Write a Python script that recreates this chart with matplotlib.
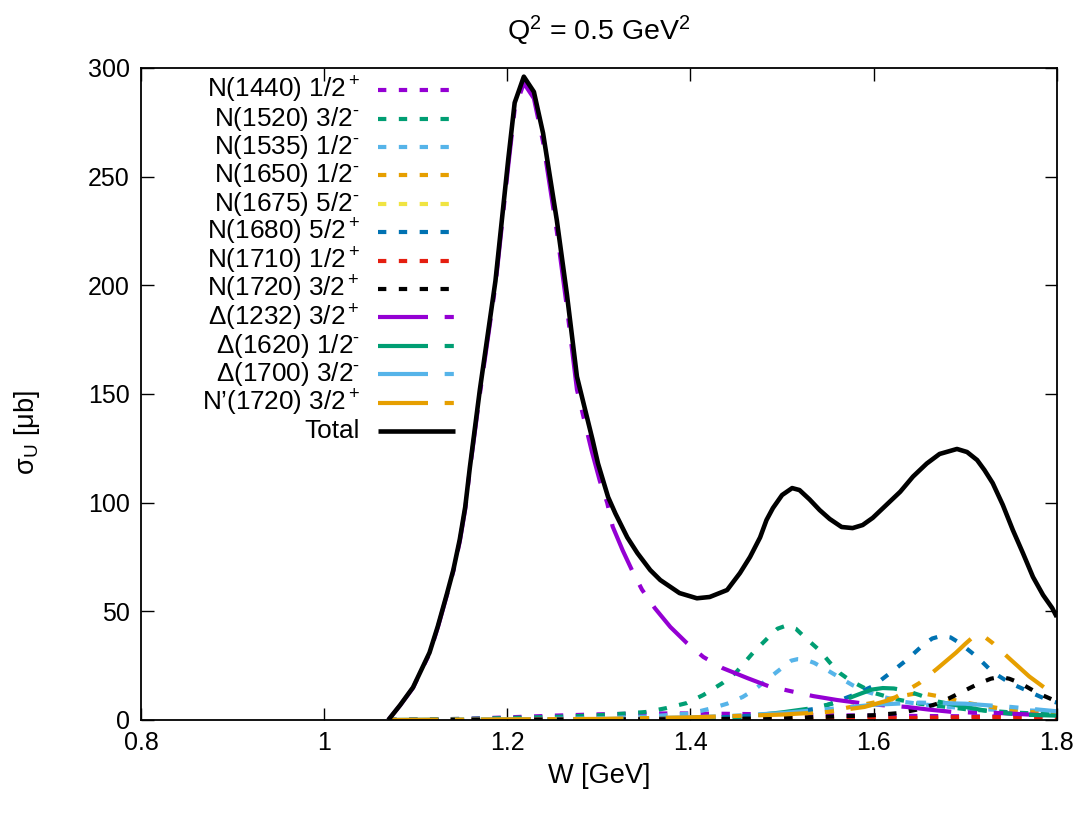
import matplotlib
matplotlib.use("Agg")
import matplotlib.pyplot as plt
from matplotlib.lines import Line2D

plt.rcParams['font.family'] = ['Liberation Sans', 'DejaVu Sans']
plt.rcParams['mathtext.fontset'] = 'custom'
plt.rcParams['mathtext.rm'] = 'Liberation Sans'
plt.rcParams['mathtext.it'] = 'Liberation Sans:italic'
plt.rcParams['mathtext.bf'] = 'Liberation Sans:bold'

# ---------------- data ----------------
W_tot = [1.07, 1.083, 1.097, 1.106, 1.115, 1.124, 1.134, 1.141, 1.148, 1.154, 1.159,
         1.170, 1.187, 1.201, 1.208, 1.218, 1.229, 1.239, 1.254, 1.265, 1.276, 1.293,
         1.299, 1.310, 1.318, 1.331, 1.342, 1.356, 1.367, 1.388, 1.407, 1.421, 1.440,
         1.454, 1.465, 1.476, 1.483, 1.490, 1.500, 1.511, 1.519, 1.530, 1.541, 1.552,
         1.565, 1.577, 1.588, 1.599, 1.614, 1.629, 1.643, 1.658, 1.672, 1.691, 1.702,
         1.713, 1.721, 1.730, 1.741, 1.752, 1.763, 1.774, 1.785, 1.795, 1.80]
S_tot = [0, 6.9, 15, 23, 31, 43, 58, 69, 83, 98, 116,
         152, 202, 258, 284, 296, 289, 270, 230, 196, 158, 129,
         118, 102.6, 95, 84, 76.8, 69, 64.4, 58.4, 56, 56.6, 59.8,
         67.6, 75, 84, 92, 97.5, 103.5, 106.7, 105.8, 101.5, 96.6, 92.5,
         88.8, 88.3, 89.7, 93, 99, 105, 112, 118, 122.4, 124.7, 123.3,
         119.6, 115, 109, 99, 87.4, 76.8, 65.8, 57.5, 51.5, 47.4]

W_D1232 = [1.07, 1.083, 1.097, 1.106, 1.115, 1.124, 1.134, 1.141, 1.148, 1.154, 1.159,
           1.170, 1.187, 1.201, 1.208, 1.218, 1.229, 1.239, 1.254, 1.265, 1.276, 1.292,
           1.301, 1.309, 1.315, 1.326, 1.336, 1.347, 1.361, 1.378, 1.396, 1.414, 1.435,
           1.462, 1.485, 1.509, 1.534, 1.56, 1.585, 1.61, 1.636, 1.66, 1.686, 1.71,
           1.738, 1.77, 1.80]
S_D1232 = [0, 6.8, 14.8, 22.8, 30.5, 42.5, 57.5, 68.5, 82, 97, 115,
           150, 200, 255, 281, 293, 286, 266, 225, 190, 152, 124,
           110, 100, 89, 78, 69, 60, 51.5, 42.8, 35.4, 29, 23.9,
           19.3, 15.6, 13.3, 11, 9.2, 7.8, 6.8, 6, 4.8, 3.7, 3.4,
           3.2, 2.5, 2]

W_N1440 = [1.07, 1.15, 1.2, 1.25, 1.3, 1.35, 1.4, 1.45, 1.5, 1.55, 1.6, 1.7, 1.8]
S_N1440 = [0, 0.5, 1.2, 2, 2.6, 3, 3, 2.8, 2.5, 2.2, 2, 1.7, 1.5]

W_N1520 = [1.07, 1.15, 1.2, 1.25, 1.3, 1.33, 1.352, 1.374, 1.396, 1.414, 1.435, 1.45,
           1.468, 1.485, 1.495, 1.505, 1.515, 1.525, 1.541, 1.552, 1.563, 1.575, 1.6,
           1.625, 1.65, 1.7, 1.75, 1.8]
S_N1520 = [0, 0.5, 0.9, 1.4, 2.2, 3, 3.7, 5.5, 7.8, 11.5, 17, 22,
           30.8, 38, 42, 43.5, 42, 38, 32, 26.5, 21.6, 18, 12.5,
           9.5, 7.5, 5, 3.5, 2.5]

W_N1535 = [1.07, 1.2, 1.3, 1.35, 1.4, 1.424, 1.44, 1.457, 1.47, 1.483, 1.5, 1.51,
           1.517, 1.525, 1.535, 1.549, 1.563, 1.577, 1.593, 1.607, 1.63, 1.658, 1.708,
           1.76, 1.8]
S_N1535 = [0, 0.3, 0.8, 1.5, 3, 5.5, 7.5, 10.6, 14, 18.4, 24, 27.3,
           28, 27.8, 26.3, 23, 19.5, 16, 13, 11, 8.5, 7, 5,
           4.5, 4]

W_N1650 = [1.07, 1.3, 1.4, 1.45, 1.5, 1.55, 1.6, 1.63, 1.65, 1.67, 1.7, 1.75, 1.8]
S_N1650 = [0, 0.3, 0.8, 1.2, 2, 4, 8, 11, 12.5, 11, 8, 4.5, 2.5]

W_N1675 = [1.07, 1.4, 1.6, 1.7, 1.8]
S_N1675 = [0, 0.1, 0.3, 0.5, 0.5]

W_N1680 = [1.07, 1.3, 1.4, 1.45, 1.5, 1.534, 1.55, 1.575, 1.599, 1.618, 1.636, 1.654,
           1.664, 1.674, 1.684, 1.694, 1.713, 1.73, 1.749, 1.770, 1.790, 1.80]
S_N1680 = [0, 0.2, 0.8, 1.5, 3, 5, 7, 11, 15.5, 21.6, 27.6, 34.5,
           37.5, 38.7, 38, 35.4, 29, 22, 17, 13, 9.2, 8]

W_N1710 = [1.07, 1.5, 1.6, 1.65, 1.7, 1.75, 1.8]
S_N1710 = [0, 0.3, 0.7, 1, 1.3, 1.4, 1.3]

W_N1720 = [1.07, 1.4, 1.5, 1.55, 1.6, 1.628, 1.650, 1.672, 1.692, 1.716, 1.728, 1.738,
           1.748, 1.760, 1.779, 1.80]
S_N1720 = [0, 0.3, 0.8, 1.5, 2.2, 3.2, 5, 7.8, 12, 17, 19, 19.8, 19, 17, 12.4, 8.5]

W_D1620 = [1.07, 1.3, 1.4, 1.45, 1.5, 1.534, 1.56, 1.585, 1.598, 1.610, 1.622, 1.635,
           1.650, 1.67, 1.7, 1.73, 1.76, 1.8]
S_D1620 = [0, 0.3, 0.7, 1.2, 3.5, 5.5, 8, 12, 14, 14.7, 14.5, 13.5,
           11.5, 8.5, 6, 3.7, 2.5, 2]

W_D1700 = [1.07, 1.3, 1.4, 1.45, 1.5, 1.55, 1.6, 1.65, 1.7, 1.75, 1.8]
S_D1700 = [0, 0.4, 1.2, 2, 3.2, 5, 7, 8, 7.5, 6, 4]

W_Np1720 = [1.07, 1.3, 1.4, 1.5, 1.55, 1.59, 1.62, 1.65, 1.669, 1.69, 1.700, 1.708,
            1.715, 1.722, 1.730, 1.749, 1.77, 1.79, 1.80]
S_Np1720 = [0, 0.5, 1.2, 2.5, 3.7, 6, 9.5, 17, 23.5, 31, 35, 38,
            39, 38, 35.4, 28, 20, 13.8, 11]

labels = [r"N(1440) 1/2$^+$", r"N(1520) 3/2$^{\text{-}}$", r"N(1535) 1/2$^{\text{-}}$",
          r"N(1650) 1/2$^{\text{-}}$", r"N(1675) 5/2$^{\text{-}}$", r"N(1680) 5/2$^+$",
          r"N(1710) 1/2$^+$", r"N(1720) 3/2$^+$", r"Δ(1232) 3/2$^+$",
          r"Δ(1620) 1/2$^{\text{-}}$", r"Δ(1700) 3/2$^{\text{-}}$", r"N’(1720) 3/2$^+$",
          "Total"]
x_ticks = [0.8, 1.0, 1.2, 1.4, 1.6, 1.8]
x_tick_labels = ["0.8", "1", "1.2", "1.4", "1.6", "1.8"]
y_ticks = [0, 50, 100, 150, 200, 250, 300]

# ---------------- styles ----------------
DOT = (0, (2, 3))
DASHDOT = (0, (12, 4, 2.2, 4))
SOLID = '-'
series = [
    (W_N1440, S_N1440, '#9400d3', DOT),
    (W_N1520, S_N1520, '#009e73', DOT),
    (W_N1535, S_N1535, '#56b4e9', DOT),
    (W_N1650, S_N1650, '#e69f00', DOT),
    (W_N1675, S_N1675, '#f0e442', DOT),
    (W_N1680, S_N1680, '#0072b2', DOT),
    (W_N1710, S_N1710, '#e51e10', DOT),
    (W_N1720, S_N1720, '#000000', DOT),
    (W_D1232, S_D1232, '#9400d3', DASHDOT),
    (W_D1620, S_D1620, '#009e73', DASHDOT),
    (W_D1700, S_D1700, '#56b4e9', DASHDOT),
    (W_Np1720, S_Np1720, '#e69f00', DASHDOT),
    (W_tot, S_tot, '#000000', SOLID),
]

fig = plt.figure(figsize=(10.85, 8.13), dpi=100)
ax = fig.add_axes([0.130, 0.1144, 0.844, 0.802])
LW = 3.0
for w, s, c, ls in series:
    ax.plot(w, s, color=c, ls=ls, lw=(3.3 if ls == SOLID else LW),
            solid_capstyle='butt', dash_capstyle='butt', solid_joinstyle='round')

ax.set_xlim(0.8, 1.8)
ax.set_ylim(0, 300)
ax.set_xticks(x_ticks)
ax.set_xticklabels(x_tick_labels)
ax.set_yticks(y_ticks)
ax.tick_params(direction='in', length=9, width=1, top=True, right=True,
               labelsize=18, pad=8)
for sp in ax.spines.values():
    sp.set_linewidth(1.3)

ax.set_xlabel("W [GeV]", fontsize=19.5, labelpad=6)
ax.set_ylabel(r"σ$_{\mathrm{U}}$ [μb]", fontsize=19.5)
ax.yaxis.set_label_coords(-0.108, 0.44)
ax.set_title(r"Q$^2$ = 0.5 GeV$^2$", fontsize=20.5, pad=20)

# legend (gnuplot style: right-aligned text, sample on the right)
y0 = 0.966
dy = 0.04356
for i, (lab, (w, s, c, ls)) in enumerate(zip(labels, series)):
    yy = y0 - i * dy
    ax.text(0.239, yy, lab, transform=ax.transAxes, ha='right', va='center',
            fontsize=18.8)
    ax.add_line(Line2D([0.2587, 0.3428], [yy, yy], transform=ax.transAxes,
                       color=c, ls=ls, lw=(3.3 if ls == SOLID else LW),
                       solid_capstyle='butt', dash_capstyle='butt'))

fig.savefig("out.png", dpi=100)
